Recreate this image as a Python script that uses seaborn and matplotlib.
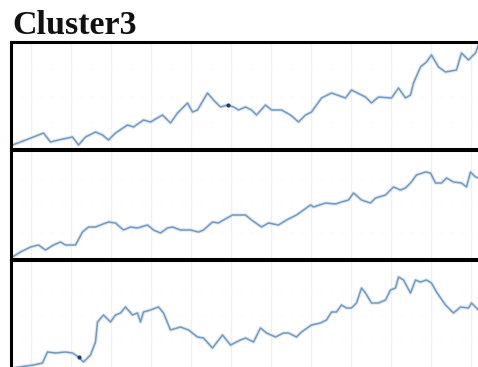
import matplotlib
matplotlib.use("Agg")
import matplotlib.pyplot as plt
import seaborn as sns
import pandas as pd

sns.set_theme(style="white")

# ---- data (time step, level) ----
t1 = [2, 10, 23, 33, 40, 48, 62, 68, 75, 85, 92, 98, 105, 117, 123, 133, 140, 152, 160, 167, 177,
      182, 187, 197, 203, 210, 217, 223, 228, 235, 241, 246, 255, 261, 271, 280, 288, 295, 301, 311,
      321, 335, 341, 355, 361, 368, 381, 388, 395, 400, 403, 410, 416, 421, 428, 435, 446, 451, 458,
      465, 468]
v1 = [4, 7, 12, 16, 7, 9, 12, 4, 12, 17, 14, 9, 16, 24, 22, 29, 27, 34, 26, 36, 46, 37, 39, 56, 49,
      42, 44, 42, 39, 42, 39, 34, 44, 39, 39, 34, 27, 34, 37, 51, 56, 51, 59, 52, 46, 52, 51, 61, 51,
      54, 66, 82, 87, 94, 82, 77, 79, 96, 89, 96, 104]

t2 = [2, 10, 20, 28, 35, 43, 50, 55, 65, 72, 78, 85, 90, 98, 105, 113, 120, 127, 137, 143, 150, 157,
      162, 170, 180, 188, 193, 202, 208, 213, 222, 230, 235, 241, 251, 258, 268, 276, 286, 300, 303,
      315, 325, 331, 338, 343, 351, 360, 365, 375, 383, 390, 395, 400, 406, 415, 420, 425, 431, 436,
      443, 451, 456, 460, 465, 468]
v2 = [2, 7, 12, 14, 9, 14, 17, 14, 14, 27, 32, 32, 34, 37, 36, 29, 32, 31, 34, 29, 26, 31, 32, 29, 29,
      27, 29, 37, 36, 39, 44, 44, 44, 39, 32, 36, 34, 39, 44, 54, 52, 56, 55, 57, 59, 66, 59, 56, 61, 64,
      72, 69, 71, 76, 84, 87, 86, 76, 76, 81, 77, 76, 72, 87, 82, 81]

t3 = [2, 23, 32, 37, 45, 55, 62, 68, 73, 80, 85, 87, 93, 100, 105, 110, 115, 122, 127, 130, 133, 140,
      148, 153, 160, 170, 178, 187, 193, 202, 212, 220, 230, 235, 243, 250, 256, 265, 273, 278, 286,
      291, 301, 310, 316, 321, 326, 331, 336, 341, 346, 351, 355, 361, 368, 375, 380, 385, 388, 393,
      400, 405, 410, 416, 421, 426, 435, 443, 450, 458, 461, 468]
v3 = [1, 4, 6, 17, 16, 17, 16, 12, 7, 14, 27, 47, 54, 47, 54, 56, 62, 54, 56, 47, 57, 59, 62, 56, 39,
      42, 39, 32, 31, 21, 34, 24, 29, 31, 27, 41, 36, 32, 36, 36, 32, 37, 44, 46, 49, 57, 57, 64, 61,
      61, 66, 81, 76, 66, 66, 69, 79, 81, 92, 89, 76, 89, 87, 89, 86, 77, 64, 56, 62, 61, 66, 59]

marks1 = ([217], [44])
marks3 = ([68], [12])

title = "Cluster3"

W, H = 478, 367
fig = plt.figure(figsize=(W / 100, H / 100), dpi=100)

line_color = "#7399c3"
panels = [(t1, v1, marks1, 42, 149), (t2, v2, None, 150, 259), (t3, v3, marks3, 260, 369)]

for t, v, mk, top, bot in panels:
    ax = fig.add_axes([10.5 / W, 1 - bot / H, (W - 10.5 + 6) / W, (bot - top) / H])
    df = pd.DataFrame({"t": t, "v": v})
    sns.lineplot(data=df, x="t", y="v", ax=ax, color="#c9d8ea", linewidth=2.6, alpha=0.6)
    sns.lineplot(data=df, x="t", y="v", ax=ax, color=line_color, linewidth=1.1)
    if mk is not None:
        ax.scatter(mk[0], mk[1], s=9, color="#1f3f6a", zorder=5, linewidths=0)
    ax.set_xlim(0, W - 10.5 + 6)
    ax.set_ylim(0, bot - top)
    for gx in range(20, 470, 40):
        ax.axvline(gx, color="#f0f0f3", lw=1.0, zorder=0)
    for gy in [27, 53, 80]:
        ax.axhline(gy, color="#f2f2f2", lw=0.8, ls=(0, (1, 8)), zorder=0)
    ax.set_xticks([])
    ax.set_yticks([])
    ax.set_xlabel("")
    ax.set_ylabel("")
    for s in ax.spines.values():
        s.set_color("black")
        s.set_linewidth(2.2)
        s.set_visible(True)

fig.text(12 / W, 1 - 34 / H, title, fontsize=24.5, fontweight="bold",
         family=["Liberation Serif", "DejaVu Serif"], color="#111111", ha="left", va="baseline")

fig.savefig("out.png", dpi=100)
